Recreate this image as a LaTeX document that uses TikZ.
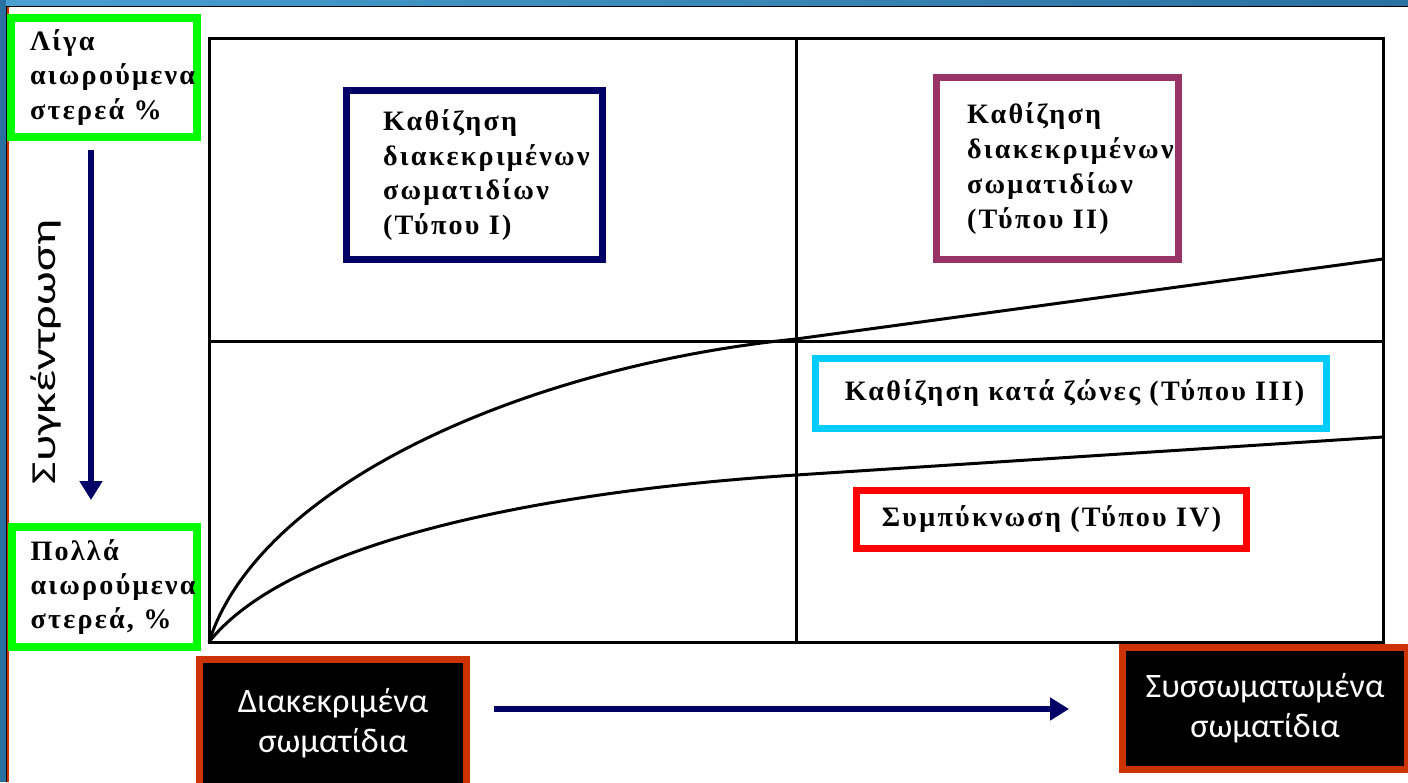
\documentclass[tikz,border=0pt]{standalone}
\usepackage{fontspec}
\setmainfont{Liberation Serif}
\newfontfamily\grsans{Carlito}
\newfontfamily\grserif[LetterSpace=8]{Liberation Serif}
\usetikzlibrary{arrows.meta}

\definecolor{navyblue}{RGB}{0,0,102}
\definecolor{plumframe}{RGB}{153,51,102}
\definecolor{skyframe}{RGB}{0,204,255}
\definecolor{limeframe}{RGB}{0,255,0}
\definecolor{rust}{RGB}{204,51,0}
\definecolor{bandlight}{RGB}{74,160,210}
\definecolor{banddark}{RGB}{42,112,160}

\begin{document}
\begin{tikzpicture}[x=0.02cm, y=-0.02cm,
    typebox/.style={draw, line width=0.14cm, inner sep=0pt,
      font=\grserif\bfseries\fontsize{16}{19.8}\selectfont},
    loadbox/.style={draw=limeframe, line width=0.16cm, inner sep=0pt,
      minimum width=3.72cm, minimum height=2.38cm, align=left, text width=2.96cm,
      font=\grserif\bfseries\fontsize{16}{19.4}\selectfont},
    classbox/.style={fill=black, draw=rust, line width=0.14cm, text=white,
      inner sep=0pt, align=center, font=\grsans\fontsize{19.5}{22.7}\selectfont},
    axisarrow/.style={navyblue, line width=0.12cm, -{Triangle[length=0.38cm,width=0.44cm]}},
    curve/.style={line width=0.06cm}]
  \useasboundingbox (0,0) rectangle (1408,782);
  \clip (0,0) rectangle (1408,782);

  % frame of the slide
  \shade[left color=bandlight, right color=banddark] (0,0) rectangle (1408,6);
  \draw[line width=0.03cm] (0,6.5) -- (1408,6.5);
  \fill[banddark] (0,0) rectangle (6,782);
  \draw[line width=0.03cm] (6.5,6) -- (6.5,782);
  \draw[rust, line width=0.03cm] (8,7) -- (8,782);

  % chart
  \draw[curve] (209,38) rectangle (1383,642);
  \draw[curve] (796,38) -- (796,642);
  \draw[curve] (209,341) -- (1383,341);
  \draw[curve] (209,642) .. controls (260,482) and (530,366) .. (796,339) -- (1383,259);
  \draw[curve] (209,642) .. controls (290,540) and (546,491) .. (796,475) -- (1383,437);

  % settling types
  \node[typebox, draw=navyblue, minimum width=5.14cm, minimum height=3.4cm,
        align=left, text width=3.66cm] (typeI) at (474.5,175)
    {Καθίζηση\\διακεκριμένων\\σωματιδίων\\(Τύπου I)};
  \node[typebox, draw=plumframe, minimum width=4.86cm, minimum height=3.66cm,
        align=left, text width=3.62cm] (typeII) at (1057.5,168.5)
    {Καθίζηση\\διακεκριμένων\\σωματιδίων\\(Τύπου II)};
  \node[typebox, draw=skyframe, minimum width=10.22cm, minimum height=1.4cm] (typeIII)
    at (1071,393.5) {\hspace{0.14cm}Καθίζηση κατά ζώνες (Τύπου III)};
  \node[typebox, draw=red, minimum width=7.8cm, minimum height=1.16cm] (typeIV)
    at (1051.5,519.5) {Συμπύκνωση (Τύπου IV)};

  % concentration axis
  \node[loadbox] (few) at (104,77.5) {Λίγα\\αιωρούμενα\\στερεά \%};
  \node[loadbox, minimum height=2.4cm] (many) at (104.5,587)
    {Πολλά\\αιωρούμενα\\στερεά, \%};
  \coordinate (vx) at (91,0);
  \draw[axisarrow, shorten <=0.18cm, shorten >=0.46cm] (few.south -| vx) -- (many.north -| vx);
  \node[rotate=90, font=\grsans\fontsize{20}{24}\selectfont] (conc) at (46,352)
    {\scalebox{1.38}[1]{Συγκέντρωση}};

  % particle axis
  \node[classbox, minimum width=5.34cm, minimum height=2.54cm] (discrete) at (333,723)
    {Διακεκριμένα\\σωματίδια};
  \node[classbox, minimum width=5.7cm, minimum height=2.44cm] (flocs) at (1265,708.5)
    {Συσσωματωμένα\\σωματίδια};
  \coordinate (hy) at (0,709);
  \draw[axisarrow, shorten <=0.48cm, shorten >=1.0cm] (discrete.east |- hy) -- (flocs.west |- hy);
\end{tikzpicture}
\end{document}
